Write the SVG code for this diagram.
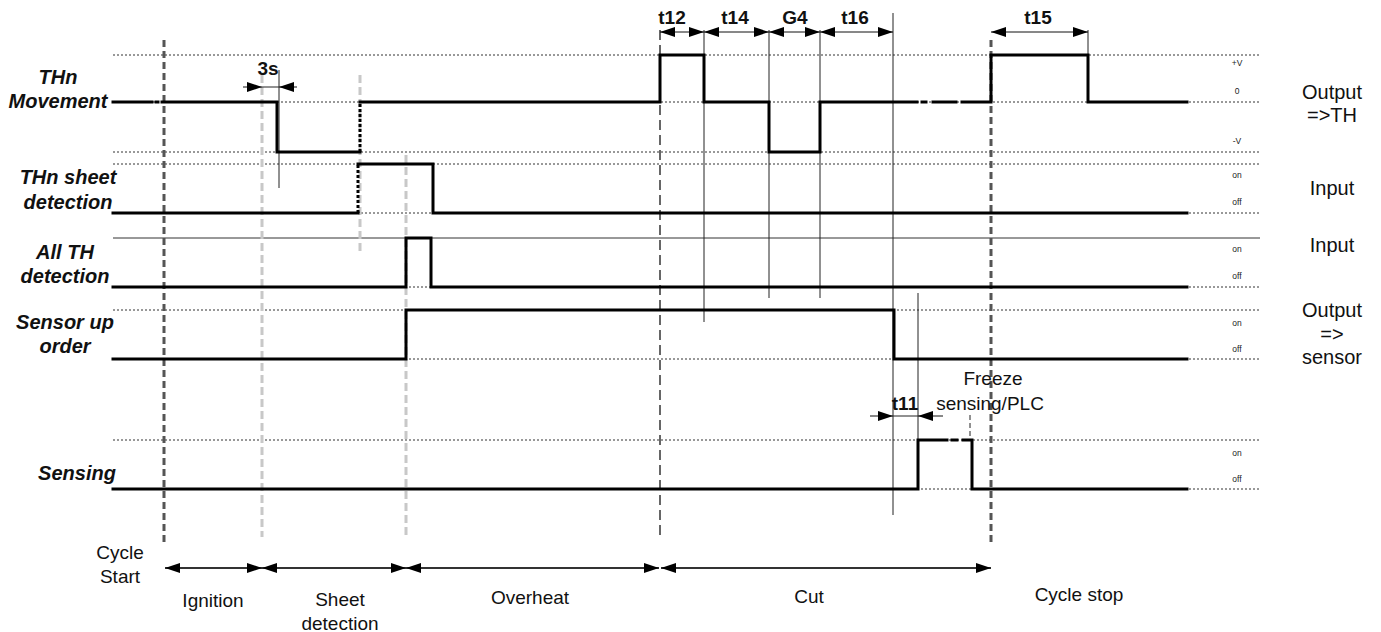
<svg xmlns="http://www.w3.org/2000/svg" width="1381" height="632" viewBox="0 0 1381 632">
<style>
.grid{stroke:#333;stroke-width:1;stroke-dasharray:2 2;fill:none}
.gsolid{stroke:#333;stroke-width:1;fill:none}
.sig{stroke:#000;stroke-width:3;fill:none;stroke-linejoin:miter;stroke-linecap:square}
.sigdot{stroke:#000;stroke-width:3;stroke-dasharray:3 2;fill:none}
.thin{stroke:#222;stroke-width:1;fill:none}
.thindash{stroke:#222;stroke-width:1;stroke-dasharray:5 3;fill:none}
.major{stroke:#555;stroke-width:3;stroke-dasharray:7 4;fill:none}
.mid{stroke:#666;stroke-width:2;stroke-dasharray:10 5;fill:none}
.light{stroke:#c8c8c8;stroke-width:3;stroke-dasharray:8 4;fill:none}
.dim{stroke:#111;stroke-width:1;fill:none;marker-start:url(#ah);marker-end:url(#ah)}
.dim1{stroke:#111;stroke-width:1;fill:none;marker-end:url(#ah)}
.phase{stroke:#333;stroke-width:2;fill:none;marker-start:url(#ah);marker-end:url(#ah)}
text{font-family:"Liberation Sans",Arial,sans-serif;fill:#111;text-anchor:middle}
.lbl{font-size:20px;font-weight:bold;font-style:italic}
.io{font-size:20px}
.lvl{font-size:8.5px;fill:#222}
.tm{font-size:19px;font-weight:bold}
.txt{font-size:19px}
</style>
<defs>
<marker id="ah" viewBox="0 0 15 10" refX="15" refY="5" markerWidth="15" markerHeight="10" markerUnits="userSpaceOnUse" orient="auto-start-reverse">
<path d="M0,0 L15,5 L0,10 z" fill="#000"/>
</marker>
</defs>
<rect width="1381" height="632" fill="#fff"/>

<g id="gridlines">
<line class="grid" x1="113" y1="55" x2="1260" y2="55"/>
<line class="grid" x1="113" y1="102" x2="1260" y2="102"/>
<line class="grid" x1="113" y1="152" x2="1260" y2="152"/>
<line class="grid" x1="113" y1="164" x2="1260" y2="164"/>
<line class="grid" x1="113" y1="213" x2="1260" y2="213"/>
<line class="gsolid" x1="113" y1="238" x2="1260" y2="238"/>
<line class="grid" x1="113" y1="287" x2="1260" y2="287"/>
<line class="grid" x1="113" y1="310" x2="1260" y2="310"/>
<line class="grid" x1="113" y1="359" x2="1260" y2="359"/>
<line class="grid" x1="113" y1="440" x2="1260" y2="440"/>
<line class="grid" x1="113" y1="489" x2="1260" y2="489"/>
</g>

<g id="phase-markers">
<line class="major" x1="164" y1="40" x2="164" y2="545"/>
<line class="major" x1="991" y1="40" x2="991" y2="545"/>
<line class="mid" x1="660" y1="30" x2="660" y2="540"/>
<line class="light" x1="262" y1="75" x2="262" y2="537"/>
<line class="light" x1="360" y1="75" x2="360" y2="255"/>
<line class="light" x1="406" y1="155" x2="406" y2="537"/>
<line class="thin" x1="279" y1="70" x2="279" y2="188"/>
<line class="thin" x1="704" y1="30" x2="704" y2="322"/>
<line class="thin" x1="769" y1="30" x2="769" y2="298"/>
<line class="thin" x1="820" y1="30" x2="820" y2="298"/>
<line class="thin" x1="893" y1="13" x2="893" y2="515"/>
<line class="thin" x1="918" y1="293" x2="918" y2="440"/>
<line class="thin" x1="1088" y1="30" x2="1088" y2="55"/>
<line class="thindash" x1="970" y1="415" x2="970" y2="440"/>
</g>

<g id="thn-movement">
<text class="lbl" x="58" y="84">THn</text>
<text class="lbl" x="58" y="108">Movement</text>
<line class="sig" x1="113" y1="102" x2="152" y2="102"/>
<line class="sig" x1="156" y1="102" x2="158" y2="102"/>
<polyline class="sig" points="162,102 277,102 277,152 360,152"/>
<line class="sigdot" x1="360" y1="152" x2="360" y2="102"/>
<polyline class="sig" points="360,102 660,102 660,55 704,55 704,102 769,102 769,152 820,152 820,102 917,102"/>
<line class="sig" x1="922" y1="102" x2="926" y2="102"/>
<line class="sig" x1="933" y1="102" x2="956" y2="102"/>
<polyline class="sig" points="962,102 991,102 991,55 1088,55 1088,102 1187,102"/>
<text class="lvl" x="1237" y="66">+V</text>
<text class="lvl" x="1237" y="94">0</text>
<text class="lvl" x="1237" y="144">-V</text>
<text class="io" x="1332" y="99">Output</text>
<text class="io" x="1332" y="122">=&gt;TH</text>
</g>

<g id="thn-sheet-detection">
<text class="lbl" x="68" y="184">THn sheet</text>
<text class="lbl" x="68" y="209">detection</text>
<line class="sig" x1="113" y1="213" x2="358" y2="213"/>
<line class="sigdot" x1="358" y1="213" x2="358" y2="164"/>
<polyline class="sig" points="358,164 433,164 433,213 1187,213"/>
<text class="lvl" x="1237" y="178">on</text>
<text class="lvl" x="1237" y="205">off</text>
<text class="io" x="1332" y="195">Input</text>
</g>

<g id="all-th-detection">
<text class="lbl" x="65" y="259">All TH</text>
<text class="lbl" x="65" y="283">detection</text>
<polyline class="sig" points="113,287 406,287 406,238 431,238 431,287 1187,287"/>
<text class="lvl" x="1237" y="252">on</text>
<text class="lvl" x="1237" y="279">off</text>
<text class="io" x="1332" y="252">Input</text>
</g>

<g id="sensor-up-order">
<text class="lbl" x="65" y="329">Sensor up</text>
<text class="lbl" x="65" y="353">order</text>
<polyline class="sig" points="113,359 406,359 406,310 894,310 894,359 1187,359"/>
<text class="lvl" x="1237" y="326">on</text>
<text class="lvl" x="1237" y="352">off</text>
<text class="io" x="1332" y="317">Output</text>
<text class="io" x="1332" y="341">=&gt;</text>
<text class="io" x="1332" y="364">sensor</text>
</g>

<g id="sensing">
<text class="lbl" x="77" y="480">Sensing</text>
<polyline class="sig" points="113,489 918,489 918,440 947,440"/>
<line class="sig" x1="952" y1="440" x2="957" y2="440"/>
<polyline class="sig" points="963,440 972,440 972,489 1187,489"/>
<text class="lvl" x="1237" y="456">on</text>
<text class="lvl" x="1237" y="482">off</text>
<text class="txt" x="993" y="385">Freeze</text>
<text class="txt" x="990" y="410">sensing/PLC</text>
</g>

<g id="connectors">
<line class="dim" x1="660" y1="32" x2="704" y2="32"/>
<line class="dim" x1="704" y1="32" x2="769" y2="32"/>
<line class="dim" x1="769" y1="32" x2="820" y2="32"/>
<line class="dim" x1="820" y1="32" x2="893" y2="32"/>
<line class="dim" x1="991" y1="32" x2="1088" y2="32"/>
<line class="dim1" x1="243" y1="87" x2="262" y2="87"/>
<line class="dim1" x1="297" y1="87" x2="279" y2="87"/>
<line class="thin" x1="262" y1="87" x2="279" y2="87"/>
<line class="dim1" x1="870" y1="416" x2="893" y2="416"/>
<line class="dim1" x1="943" y1="416" x2="918" y2="416"/>
<line class="thin" x1="893" y1="416" x2="918" y2="416"/>
<line class="phase" x1="165" y1="568" x2="262" y2="568"/>
<line class="phase" x1="262" y1="568" x2="406" y2="568"/>
<line class="phase" x1="406" y1="568" x2="659" y2="568"/>
<line class="phase" x1="661" y1="568" x2="991" y2="568"/>
</g>

<g id="timing-labels">
<text class="tm" x="672" y="24">t12</text>
<text class="tm" x="735" y="24">t14</text>
<text class="tm" x="795" y="24">G4</text>
<text class="tm" x="855" y="24">t16</text>
<text class="tm" x="1038" y="24">t15</text>
<text class="tm" x="268" y="75">3s</text>
<text class="tm" x="905" y="410">t11</text>
</g>

<g id="phase-labels">
<text class="txt" x="120" y="559">Cycle</text>
<text class="txt" x="120" y="583">Start</text>
<text class="txt" x="213" y="607">Ignition</text>
<text class="txt" x="340" y="606">Sheet</text>
<text class="txt" x="340" y="630">detection</text>
<text class="txt" x="530" y="604">Overheat</text>
<text class="txt" x="809" y="603">Cut</text>
<text class="txt" x="1079" y="601">Cycle stop</text>
</g>
</svg>
